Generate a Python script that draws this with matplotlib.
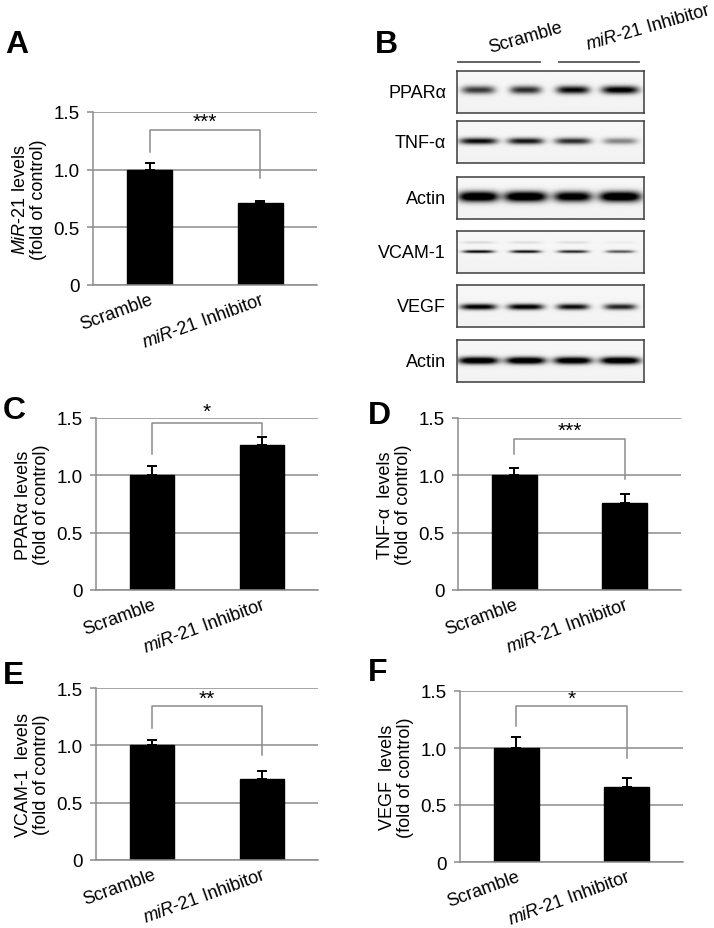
import numpy as np
import matplotlib.pyplot as plt

plt.rcParams['font.family'] = ['Liberation Sans', 'DejaVu Sans']
plt.rcParams['mathtext.fontset'] = 'custom'
plt.rcParams['mathtext.rm'] = 'Liberation Sans'
plt.rcParams['mathtext.it'] = 'Liberation Sans:italic'

# ---- data ----
groups = ["Scramble", r"$\mathit{miR}$-$\mathit{21}$ Inhibitor"]
yticks = [0, 0.5, 1.0, 1.5]
ytick_labels = ["0", "0.5", "1.0", "1.5"]

mir21_mean = [1.0, 0.71]
mir21_err = [0.06, 0.02]
ppara_mean = [1.0, 1.265]
ppara_err = [0.08, 0.065]
tnfa_mean = [1.0, 0.76]
tnfa_err = [0.06, 0.08]
vcam1_mean = [1.0, 0.71]
vcam1_err = [0.05, 0.07]
vegf_mean = [1.0, 0.655]
vegf_err = [0.10, 0.08]

# bracket: top, left foot, right foot, stars, star y
mir21_sig = (1.34, 1.15, 0.93, "***", 1.42)
ppara_sig = (1.46, 1.19, 1.35, "*", 1.56)
tnfa_sig = (1.32, 1.185, 0.97, "***", 1.39)
vcam1_sig = (1.34, 1.15, 0.92, "**", 1.41)
vegf_sig = (1.37, 1.19, 0.91, "*", 1.44)

# western blot (B): relative band darkness per lane
blot_labels = ["PPARα", "TNF-α", "Actin", "VCAM-1", "VEGF", "Actin"]
band_intensity = [
    [0.75, 0.80, 0.97, 1.05],
    [0.95, 0.90, 0.80, 0.45],
    [1.30, 1.30, 1.15, 1.30],
    [1.00, 0.95, 0.85, 0.65],
    [1.05, 1.05, 0.95, 0.85],
    [1.25, 1.25, 1.20, 1.25],
]
band_halfwidth = [
    [0.35, 0.33, 0.35, 0.39],
    [0.40, 0.38, 0.38, 0.36],
    [0.42, 0.45, 0.40, 0.44],
    [0.33, 0.32, 0.32, 0.30],
    [0.38, 0.38, 0.34, 0.34],
    [0.42, 0.42, 0.40, 0.42],
]
band_sigma = [0.095, 0.075, 0.12, 0.035, 0.07, 0.085]
band_center = [0.45, 0.49, 0.48, 0.49, 0.52, 0.49]
vcam_faint = [0.12, 0.10, 0.10, 0.04]

grid_col = "#8c8c8c"

fig = plt.figure(figsize=(7.14, 9.29), dpi=100)
W, H = 714, 929

# overlay in pixel coords for labels/lines
ov = fig.add_axes([0, 0, 1, 1])
ov.set_xlim(0, W)
ov.set_ylim(H, 0)
ov.axis("off")


def px_axes(left, top, right, bottom):
    return fig.add_axes([left / W, 1 - bottom / H, (right - left) / W, (bottom - top) / H])


def bar_panel(ax, means, errs, ylabel, sig):
    x = np.arange(len(groups))
    ax.bar(x, means, width=0.405, color="black", edgecolor="black", zorder=2)
    ax.errorbar(x, means, yerr=[np.zeros(len(errs)), errs], fmt="none",
                ecolor="black", elinewidth=1.4, capsize=3.5, capthick=1.4, zorder=3)
    ax.set_xlim(-0.51, 1.51)
    ax.set_ylim(0, 1.5)
    ax.set_yticks(yticks)
    ax.set_yticklabels(ytick_labels)
    ax.yaxis.grid(True, color=grid_col, lw=1.1)
    ax.set_axisbelow(True)
    for s in ["top", "right"]:
        ax.spines[s].set_visible(False)
    ax.spines["left"].set_color(grid_col)
    ax.spines["bottom"].set_color(grid_col)
    ax.spines["left"].set_linewidth(1.1)
    ax.spines["bottom"].set_linewidth(1.1)
    ax.tick_params(axis="y", length=4, color=grid_col, width=1.1, labelsize=13.5, pad=5.5)
    ax.tick_params(axis="x", length=0, labelsize=13, pad=4)
    ax.set_xticks(x)
    ax.set_xticklabels(groups, rotation=20, ha="right", rotation_mode="anchor")
    ax.set_ylabel(ylabel, fontsize=13, linespacing=1.05, labelpad=5)
    top, lf, rf, star, sy = sig
    ax.plot([0, 0, 1, 1], [lf, top, top, rf], color=grid_col, lw=1.1, clip_on=False)
    ax.text(0.5, sy, star, ha="center", va="center", fontsize=15, clip_on=False)


ax_a = px_axes(93, 113, 317, 286)
bar_panel(ax_a, mir21_mean, mir21_err,
          "$\\mathit{MiR}$-$\\mathit{21}$ levels\n(fold of control)", mir21_sig)
ax_c = px_axes(96, 419, 318, 591)
bar_panel(ax_c, ppara_mean, ppara_err, "PPARα levels\n(fold of control)", ppara_sig)
ax_d = px_axes(458, 419, 681, 591)
bar_panel(ax_d, tnfa_mean, tnfa_err, "TNF-α  levels\n(fold of control)", tnfa_sig)
ax_e = px_axes(96, 689, 318, 861)
bar_panel(ax_e, vcam1_mean, vcam1_err, "VCAM-1  levels\n(fold of control)", vcam1_sig)
ax_f = px_axes(460, 692, 683, 863)
bar_panel(ax_f, vegf_mean, vegf_err, "VEGF  levels\n(fold of control)", vegf_sig)

# ---- blot ----
row_tops = [72, 122, 178, 232, 286, 341]
row_h = 42
xl = (-0.45, 3.5)
xs = np.linspace(xl[0], xl[1], 500)
ys = np.linspace(0, 1, 120)
XX, YY = np.meshgrid(xs, ys)
for r, lab in enumerate(blot_labels):
    ax = px_axes(457, row_tops[r], 644, row_tops[r] + row_h)
    img = np.full(XX.shape, 0.03) + 0.02 * YY
    for lane in range(4):
        hw = band_halfwidth[r][lane]
        prof_x = np.exp(-(np.abs(XX - lane) / hw) ** 4)
        prof_y = np.exp(-((YY - band_center[r]) / band_sigma[r]) ** 2)
        img += band_intensity[r][lane] * prof_x * prof_y
        if lab == "VCAM-1":
            img += vcam_faint[lane] * np.exp(-(np.abs(XX - lane) / 0.35) ** 4) * \
                np.exp(-((YY - 0.27) / 0.03) ** 2)
    img = np.clip(img, 0, 1)
    ax.imshow(img, extent=(xl[0], xl[1], 1, 0), cmap="gray_r", vmin=0, vmax=1,
              aspect="auto", interpolation="bilinear")
    ax.set_xlim(*xl)
    ax.set_ylim(1, 0)
    ax.set_xticks([])
    ax.set_yticks([])
    for s in ax.spines.values():
        s.set_color("#3c3c3c")
        s.set_linewidth(1.1)
    ov.text(446, row_tops[r] + row_h / 2, lab, ha="right", va="center", fontsize=13)

ov.plot([458, 540], [63, 63], color="#555555", lw=1.3)
ov.plot([559, 639], [63, 63], color="#555555", lw=1.3)
ov.text(526, 38, "Scramble", ha="center", va="center", rotation=16,
        rotation_mode="anchor", fontsize=13)
ov.text(648, 28, r"$\mathit{miR}$-$\mathit{21}$ Inhibitor", ha="center", va="center",
        rotation=16, rotation_mode="anchor", fontsize=13)

# panel letters
for letter, (px, py) in zip("ABCDEF", [(5, 30), (375, 30), (3, 396), (368, 401), (3, 661), (368, 658)]):
    ov.text(px, py, letter, ha="left", va="top", fontsize=23, fontweight="bold")

fig.savefig("out.png", dpi=100)
